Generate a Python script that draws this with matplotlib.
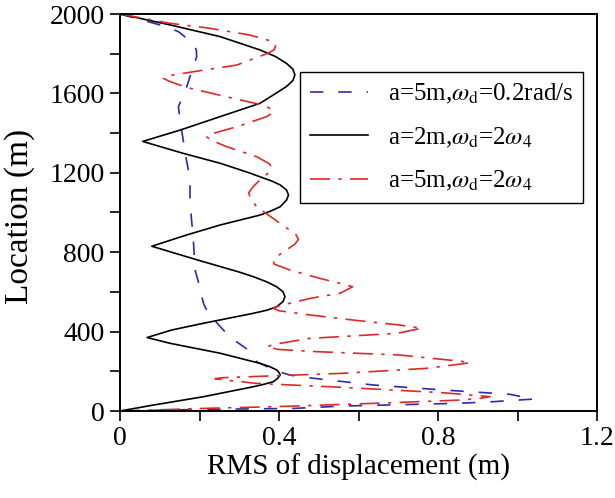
import matplotlib
matplotlib.use("Agg")
import matplotlib.pyplot as plt
from matplotlib.ticker import MultipleLocator

plt.rcParams['font.family'] = ['Liberation Serif', 'DejaVu Serif']
plt.rcParams['mathtext.fontset'] = 'stix'

# Series 1: a=5m, wd=0.2 rad/s (blue dashed)
loc_blue = [2000, 1936, 1911, 1852, 1820, 1785, 1750, 1709, 1634, 1533, 1466, 1365, 1298,
            1214, 1147, 1063, 962, 878, 811, 710, 651, 542, 492, 408, 366, 307, 248,
            200, 180, 165, 131, 106, 84, 60, 47, 39, 25, 13, 8, 0]
rms_blue = [0.0, 0.117, 0.147, 0.184, 0.192, 0.193, 0.187, 0.180, 0.168, 0.147, 0.151, 0.159, 0.164,
            0.172, 0.176, 0.176, 0.180, 0.184, 0.186, 0.189, 0.197, 0.210, 0.222, 0.260, 0.281, 0.323, 0.344,
            0.395, 0.430, 0.486, 0.637, 0.813, 0.981, 1.040, 0.939, 0.855, 0.562, 0.436, 0.201, 0.0]

# Series 2: a=2m, wd=2w4 (black solid)
loc_black = [2000, 1945, 1886, 1819, 1785, 1751, 1722, 1693, 1665, 1635, 1600, 1550, 1483, 1415, 1358,
             1298, 1248, 1200, 1180, 1160, 1139, 1113, 1088, 1063, 1029, 1008, 987, 937, 887, 830,
             777, 752, 700, 677, 650, 626, 601, 576, 551, 525, 508, 492, 442, 408, 370,
             341, 291, 240, 224, 207, 194, 181, 165, 148, 135, 122, 72, 30, 0]
rms_black = [0.0, 0.126, 0.252, 0.352, 0.392, 0.419, 0.435, 0.440, 0.435, 0.419, 0.392, 0.352, 0.252, 0.151, 0.057,
             0.159, 0.252, 0.325, 0.352, 0.380, 0.403, 0.419, 0.424, 0.419, 0.403, 0.380, 0.352, 0.252, 0.168, 0.080,
             0.168, 0.210, 0.300, 0.335, 0.370, 0.394, 0.410, 0.415, 0.410, 0.394, 0.370, 0.335, 0.210, 0.130, 0.068,
             0.126, 0.252, 0.352, 0.376, 0.394, 0.400, 0.403, 0.397, 0.386, 0.363, 0.335, 0.210, 0.084, 0.0]

# Series 3: a=5m, wd=2w4 (red dash-dot)
loc_red = [2000, 1953, 1928, 1894, 1865, 1845, 1820, 1802, 1743, 1709, 1690, 1676, 1660,
           1630, 1583, 1541, 1516, 1500, 1483, 1432, 1395, 1382, 1365, 1332, 1281, 1245,
           1225, 1200, 1170, 1130, 1100, 1070, 1029, 945, 890, 865, 840, 800, 777, 755,
           740, 710, 668, 640, 626, 610, 593, 568, 530, 517, 505, 484, 458, 433, 417,
           405, 391, 366, 335, 322, 310, 299, 282, 250, 243, 235, 215, 190, 168, 163,
           155, 139, 119, 92, 72, 62, 55, 39, 22, 14, 0]
rms_red = [0.0, 0.126, 0.226, 0.327, 0.378, 0.392, 0.388, 0.372, 0.294, 0.184, 0.125, 0.109, 0.125,
           0.168, 0.268, 0.360, 0.386, 0.382, 0.369, 0.294, 0.228, 0.218, 0.228, 0.268, 0.344, 0.376,
           0.382, 0.374, 0.355, 0.335, 0.324, 0.328, 0.344, 0.403, 0.442, 0.449, 0.440, 0.410, 0.394, 0.386,
           0.388, 0.428, 0.503, 0.560, 0.585, 0.570, 0.553, 0.480, 0.400, 0.386, 0.400, 0.478, 0.587, 0.704, 0.759,
           0.730, 0.696, 0.478, 0.385, 0.369, 0.400, 0.495, 0.704, 0.860, 0.881, 0.850, 0.772, 0.562, 0.260, 0.239,
           0.270, 0.344, 0.562, 0.813, 0.931, 0.900, 0.855, 0.646, 0.394, 0.226, 0.0]

labels = [r'a=5m,$\omega_{\rm d}$=0.2rad/s',
          r'a=2m,$\omega_{\rm d}$=2$\omega_4$',
          r'a=5m,$\omega_{\rm d}$=2$\omega_4$']

fig = plt.figure(figsize=(6.15, 4.98), dpi=100)
ax = fig.add_axes([120/615, 1-411/498, 477/615, 397/498])

lw = 1.2
ax.plot(rms_blue, loc_blue, color='#2b2bb0', lw=lw, dashes=(8, 9), label=labels[0])
ax.plot(rms_black, loc_black, color='black', lw=lw, label=labels[1])
ax.plot(rms_red, loc_red, color='#e02828', lw=lw, dashes=(12, 5, 2, 5), label=labels[2])

ax.set_xlim(0, 1.2)
ax.set_ylim(0, 2000)
ax.xaxis.set_major_locator(MultipleLocator(0.4))
ax.xaxis.set_minor_locator(MultipleLocator(0.2))
ax.yaxis.set_major_locator(MultipleLocator(400))
ax.yaxis.set_minor_locator(MultipleLocator(200))
ax.xaxis.set_major_formatter(matplotlib.ticker.FuncFormatter(lambda v, p: '0' if abs(v) < 1e-9 else f'{v:g}'))
ax.tick_params(which='both', direction='out', length=7, width=1.2, labelsize=20,
               top=False, right=False, pad=4)
for s in ax.spines.values():
    s.set_linewidth(1.4)

ax.set_xlabel('RMS of displacement (m)', fontsize=21, labelpad=2)
ax.set_ylabel('Location (m)', fontsize=24)
ax.yaxis.set_label_coords(-0.178, 0.49)

leg = ax.legend(loc='upper right', bbox_to_anchor=(0.971, 0.854), fontsize=18,
                frameon=True, fancybox=False, edgecolor='black', framealpha=1,
                handlelength=2.3, handletextpad=0.8, labelspacing=0.78,
                borderpad=0.4, borderaxespad=0)
leg.get_frame().set_linewidth(1.0)

fig.savefig('out.png', dpi=100)
